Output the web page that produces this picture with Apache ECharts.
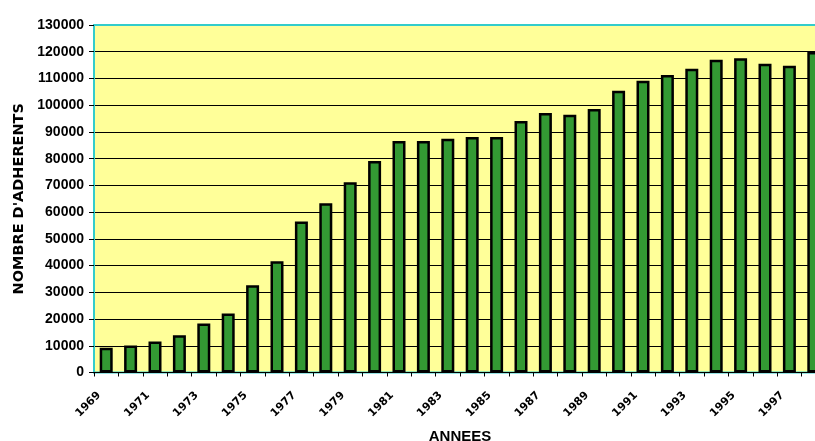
<!DOCTYPE html>
<html>
<head>
<meta charset="utf-8">
<script src="https://cdn.jsdelivr.net/npm/echarts@6/dist/echarts.min.js"></script>
<style>
html,body{margin:0;padding:0;background:#ffffff;}
#chart{width:815px;height:441px;}
</style>
</head>
<body>
<div id="chart"></div>
<script>
var years = ['1969','1970','1971','1972','1973','1974','1975','1976','1977','1978',
             '1979','1980','1981','1982','1983','1984','1985','1986','1987','1988',
             '1989','1990','1991','1992','1993','1994','1995','1996','1997','1998'];
var adherents = [9300,10100,11600,13900,18300,22100,32600,41600,56500,63300,
                 71200,79100,86600,86600,87400,88100,88100,94100,97100,96400,
                 98600,105400,109100,111300,113600,117000,117600,115500,114800,119900];
var yTicks = {min:0, max:130000, interval:10000};

var gridColors = [];
for (var i = 0; i < 14; i++) gridColors.push(i === 13 ? 'rgba(0,0,0,0)' : '#000000');

var chart = echarts.init(document.getElementById('chart'), null, {renderer:'canvas'});
chart.setOption({
  animation:false,
  backgroundColor:'#ffffff',
  grid:{left:94, top:25, right:-11, bottom:68.5, show:true, backgroundColor:'#FFFF99',
        borderColor:'#33CCCC', borderWidth:2, containLabel:false, outerBoundsMode:'none'},
  xAxis:[{
    type:'category', data:years, position:'bottom',
    name:'ANNEES', nameLocation:'middle', nameGap:57,
    nameTextStyle:{fontFamily:'Liberation Sans', fontWeight:'bold', fontSize:15, color:'#000'},
    axisLine:{show:true, lineStyle:{color:'#000', width:1}},
    axisTick:{show:true, interval:0, length:4, lineStyle:{color:'#000'}},
    axisLabel:{interval:1, rotate:45, margin:14, padding:[0,10,0,0], fontFamily:'DejaVu Sans', fontWeight:'bold',
               fontSize:11, color:'#000'},
    splitLine:{show:false}
  },{
    type:'category', data:years, position:'top',
    axisLine:{show:true, lineStyle:{color:'#33CCCC', width:2}},
    axisTick:{show:false}, axisLabel:{show:false}, splitLine:{show:false}
  }],
  yAxis:{
    type:'value', min:yTicks.min, max:yTicks.max, interval:yTicks.interval,
    name:"NOMBRE D'ADHERENTS", nameLocation:'middle', nameGap:66, nameRotate:90,
    nameTextStyle:{fontFamily:'DejaVu Sans', fontWeight:'bold', fontSize:14.5, color:'#000'},
    axisLine:{show:true, lineStyle:{color:'#33CCCC', width:2}},
    axisTick:{show:true, length:5, lineStyle:{color:'#000'}},
    axisLabel:{margin:10, fontFamily:'Liberation Sans', fontWeight:'bold', fontSize:14, color:'#000',
               formatter:function(v){return String(v);}},
    splitLine:{show:true, lineStyle:{color:gridColors, width:1}}
  },
  series:[{
    type:'bar', data:adherents, xAxisIndex:0, barWidth:13,
    itemStyle:{color:'#339933', borderColor:'#000000', borderWidth:2.5}
  }]
});
</script>
</body>
</html>
